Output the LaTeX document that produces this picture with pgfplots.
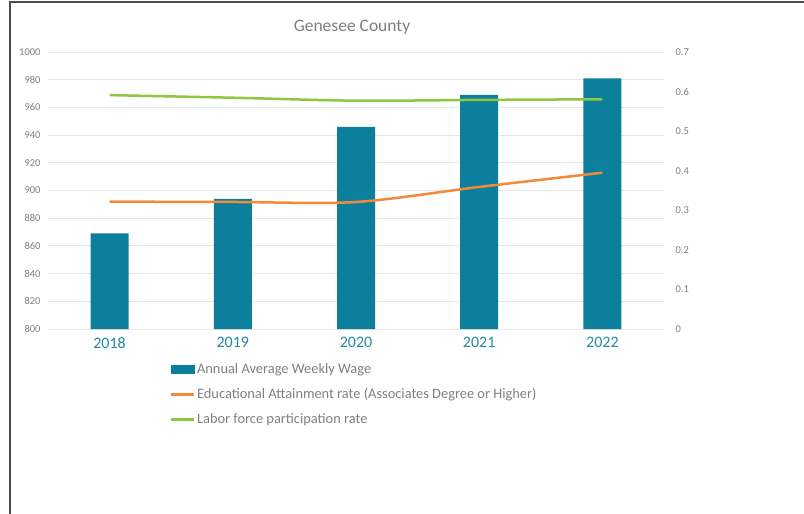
\documentclass[border=0pt]{standalone}
\usepackage{pgfplots}
\pgfplotsset{compat=1.18}
\usepackage{fontspec}
\setmainfont{Carlito}
\definecolor{barc}{HTML}{0B7F9B}
\definecolor{orc}{HTML}{F4893A}
\definecolor{grc}{HTML}{8DC63F}
\definecolor{txt}{HTML}{7F7F7F}
\definecolor{yr}{HTML}{2488A6}
\definecolor{gridc}{HTML}{E6E6E6}
\begin{document}
\begin{tikzpicture}
\path[use as bounding box] (0pt,0pt) rectangle (804pt,-514pt);
\draw[line width=2pt, black!70] (10pt,-514pt) -- (10pt,-2pt) -- (804pt,-2pt);
\node[text=txt, font=\fontsize{17.5}{20}\selectfont] at (352pt,-27pt) {Genesee County};
\begin{axis}[
  at={(48pt,-329pt)}, anchor=south west, scale only axis, width=616pt, height=277pt,
  xmin=-0.5, xmax=4.5, ymin=800, ymax=1000, ytick={800,820,...,1000},
  xtick={0,1,2,3,4}, xticklabels={2018,2019,2020,2021,2022},
  axis line style={draw=none}, tick style={draw=none},
  ymajorgrids, grid style={gridc, line width=1pt},
  /pgf/number format/assume math mode=true,
  /pgf/number format/1000 sep={},
  yticklabel style={font=\fontsize{10.5}{12}\selectfont, text=txt, xshift=-4pt},
  xticklabel style={font=\fontsize{16}{19}\selectfont, text=yr, yshift=-5pt},
]
\addplot[ybar, bar width=38pt, fill=barc, draw=none] coordinates {(0,869)(1,894)(2,946)(3,969)(4,981)};
\end{axis}
\begin{axis}[
  at={(48pt,-329pt)}, anchor=south west, scale only axis, width=616pt, height=277pt,
  xmin=-0.5, xmax=4.5, ymin=0, ymax=0.7, ytick={0,0.1,0.2,0.3,0.4,0.5,0.6,0.7},
  yticklabels={0,0.1,0.2,0.3,0.4,0.5,0.6,0.7},
  xtick=\empty, yticklabel pos=right,
  axis line style={draw=none}, tick style={draw=none},
  yticklabel style={font=\fontsize{10.5}{12}\selectfont, text=txt, xshift=8pt},
  legend style={draw=none, fill=none, at={(0.193,-0.109)}, anchor=north west,
    font=\fontsize{14.4}{16}\selectfont, text=txt, row sep=9.5pt,
    nodes={inner xsep=1.5pt}},
  legend cell align=left,
]
\addlegendimage{legend image code/.code={\fill[barc] (0pt,-4pt) rectangle (23pt,4pt);}}
\addlegendentry{Annual Average Weekly Wage}
\addplot[orc, line width=2.5pt, smooth, legend image code/.code={\draw[orc, line width=2.5pt] (0pt,0pt) -- (23pt,0pt);}] coordinates {(0,0.322)(1,0.321)(2,0.321)(3,0.359)(4,0.395)};
\addlegendentry{Educational Attainment rate (Associates Degree or Higher)}
\addplot[grc, line width=2.5pt, smooth, legend image code/.code={\draw[grc, line width=2.5pt] (0pt,0pt) -- (23pt,0pt);}] coordinates {(0,0.591)(1,0.5845)(2,0.577)(3,0.579)(4,0.5805)};
\addlegendentry{Labor force participation rate}
\end{axis}
\end{tikzpicture}
\end{document}
